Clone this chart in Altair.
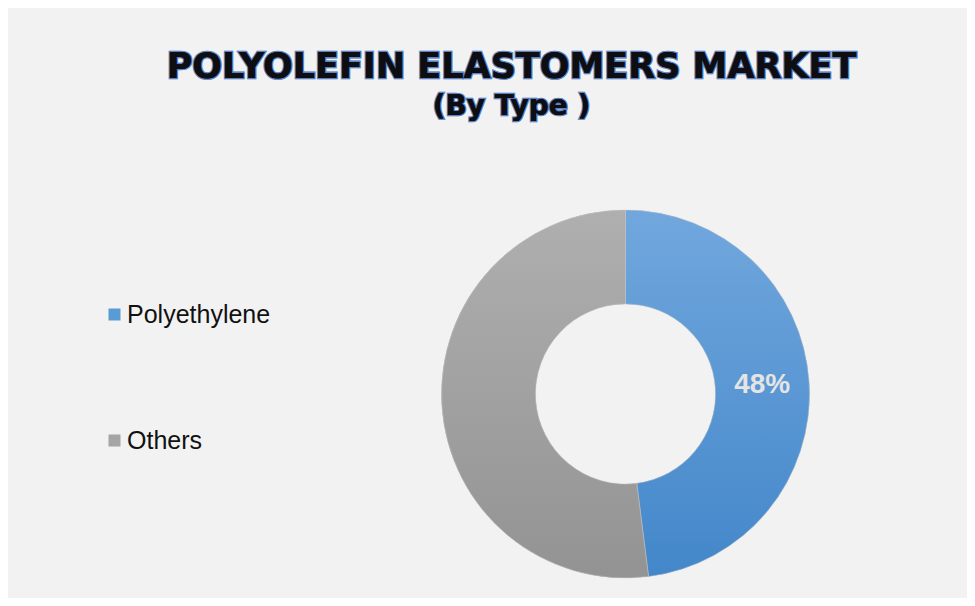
import altair as alt
import pandas as pd

# ---- data ----
types = ["Polyethylene", "Others"]
shares = [48, 52]
labels = ["48%", ""]
order_idx = [0, 1]
title_line1 = "POLYOLEFIN ELASTOMERS MARKET"
title_line2 = "(By Type )"

df = pd.DataFrame({"type": types, "share": shares, "label": labels, "idx": order_idx})

W, H = 959, 590
CX, CY = 617.5, 386.0
R_OUT, R_IN = 184, 90

blue_grad = alt.LinearGradient(
    gradient="linear", x1=0, y1=0, x2=0, y2=1,
    stops=[alt.GradientStop(color="#71a7dd", offset=0), alt.GradientStop(color="#4387ca", offset=1)],
)
gray_grad = alt.LinearGradient(
    gradient="linear", x1=0, y1=0, x2=0, y2=1,
    stops=[alt.GradientStop(color="#afafaf", offset=0), alt.GradientStop(color="#939393", offset=1)],
)

base = alt.Chart(df).encode(
    theta=alt.Theta("share:Q", stack=True),
    order=alt.Order("idx:Q"),
)

# arc with legend (solid colours)
arc_legend = base.mark_arc(radius=R_OUT, radius2=R_IN).encode(
    x=alt.value(CX), y=alt.value(CY),
    color=alt.Color(
        "type:N",
        scale=alt.Scale(domain=types, range=["#5b9bd5", "#a5a5a5"]),
        legend=alt.Legend(
            orient="none", legendX=94, legendY=294, direction="vertical", title=None,
            symbolType="square", symbolSize=144, symbolStrokeWidth=0, symbolOpacity=1,
            labelFont="Liberation Sans", labelFontSize=25, labelColor="#111111",
            labelOffset=0, rowPadding=100, padding=0,
        ),
    ),
)

# gradient overlay
arc_grad = base.mark_arc(radius=R_OUT, radius2=R_IN, stroke="#c8c8c8", strokeWidth=0.5).encode(
    x=alt.value(CX), y=alt.value(CY),
    color=alt.condition("datum.type === 'Polyethylene'", alt.value(blue_grad), alt.value(gray_grad)),
)

pct = base.mark_text(
    radius=(R_OUT + R_IN) / 2, font="Liberation Sans", fontSize=28, fontWeight="bold",
    color="#e4e4e4", align="center", baseline="middle",
).encode(x=alt.value(CX), y=alt.value(CY), text="label:N")

def title_layer(txt, y, size):
    glow = alt.Chart(df).mark_text(
        font="DejaVu Sans", fontWeight="bold", fontSize=size, align="center", baseline="alphabetic",
        fill="#3560a6", stroke="#4a76bb", strokeWidth=2.6, strokeOpacity=0.7,
    ).encode(x=alt.value(503.5), y=alt.value(y), text=alt.value(txt))
    core = alt.Chart(df).mark_text(
        font="DejaVu Sans", fontWeight="bold", fontSize=size, align="center", baseline="alphabetic",
        fill="#0e0e12",
    ).encode(x=alt.value(503.5), y=alt.value(y), text=alt.value(txt))
    return glow + core

chart = alt.layer(
    arc_legend, arc_grad, pct,
    title_layer(title_line1, 70, 35),
    title_layer(title_line2, 107, 28),
).properties(
    width=W, height=H, autosize=alt.AutoSizeParams(type="none"), padding=0,
).configure(background="#f2f2f2").configure_view(stroke=None)

chart.save("out.html", embed_options={"renderer": "svg", "actions": False})
